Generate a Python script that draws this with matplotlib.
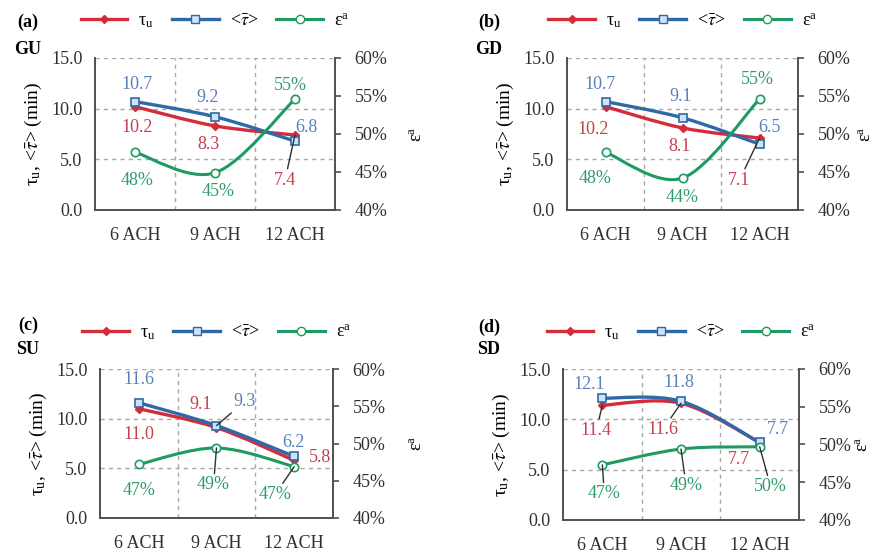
import numpy as np
import matplotlib
matplotlib.use("Agg")
import matplotlib.pyplot as plt
from matplotlib.path import Path
from matplotlib.patches import PathPatch
from matplotlib.lines import Line2D
from matplotlib.ticker import FuncFormatter

plt.rcParams['font.family'] = ['Liberation Serif', 'DejaVu Serif']
plt.rcParams['mathtext.fontset'] = 'stix'

# ---- data ----
categories = ['6 ACH', '9 ACH', '12 ACH']
panel_tags = ['(a)', '(b)', '(c)', '(d)']
panel_names = ['GU', 'GD', 'SU', 'SD']

tau_u_GU = [10.2, 8.3, 7.4]
tau_mean_GU = [10.7, 9.2, 6.8]
eps_GU = [47.6, 44.9, 54.6]

tau_u_GD = [10.2, 8.1, 7.1]
tau_mean_GD = [10.7, 9.1, 6.5]
eps_GD = [47.6, 44.2, 54.6]

tau_u_SU = [11.0, 9.1, 5.8]
tau_mean_SU = [11.6, 9.3, 6.2]
eps_SU = [47.2, 49.4, 46.9]

tau_u_SD = [11.4, 11.6, 7.7]
tau_mean_SD = [12.1, 11.8, 7.7]
eps_SD = [47.3, 49.4, 49.7]

tau_u_all = [tau_u_GU, tau_u_GD, tau_u_SU, tau_u_SD]
tau_mean_all = [tau_mean_GU, tau_mean_GD, tau_mean_SU, tau_mean_SD]
eps_all = [eps_GU, eps_GD, eps_SU, eps_SD]

# ---- styling / layout ----
RED, BLUE, GREEN = '#d42c3a', '#2e6aa8', '#1e9a62'
RED_T, BLUE_T, GREEN_T = '#c4414d', '#5a80b8', '#2f9c6c'
GRID = '#a8a8a8'
SPINE = '#505050'
FS = 13

# axes boxes in pixels: left, right, top, bottom
boxes = [(95, 335, 58, 210), (567, 798, 58, 210),
         (100, 333, 369, 518), (563, 799, 369, 520)]
tag_xy = [(28, 22, 50), (489, 22, 50), (28, 325, 349), (489, 327, 349)]
right_label_x = [418, 866, 418, 864]

# label offsets in pixels (dx, dy up), and leader flag
off_red = [[(2, -21, 0), (-7, -19, 0), (-10, -45, 1)],
           [(-12, -23, 0), (-3, -19, 0), (-20, -42, 1)],
           [(0, -26, 0), (-16, 23, 0), (26, 3, 0)],
           [(-6, -25, 1), (-18, -26, 1), (-21, -17, 0)]]
off_blue = [[(2, 17, 0), (-7, 19, 0), (11, 14, 0)],
            [(-5, 17, 0), (-2, 21, 0), (10, 17, 0)],
            [(0, 23, 0), (28, 24, 1), (-1, 14, 0)],
            [(-13, 14, 0), (-2, 19, 0), (18, 13, 0)]]
off_green = [[(2, -28, 0), (3, -19, 0), (-5, 14, 0)],
             [(-10, -26, 0), (0, -19, 0), (-2, 20, 0)],
             [(0, -26, 0), (-3, -37, 1), (-19, -28, 1)],
             [(2, -29, 1), (5, -36, 1), (11, -40, 1)]]

W, H = 882, 555
fig = plt.figure(figsize=(W / 100, H / 100), dpi=100)


def smooth_path(x, y):
    # Catmull-Rom style smoothed line through the points (Bezier segments)
    pts = np.column_stack([np.asarray(x, float), np.asarray(y, float)])
    ext = np.vstack([pts[0], pts, pts[-1]])
    verts = [pts[0]]
    codes = [Path.MOVETO]
    for i in range(len(pts) - 1):
        p0, p1, p2, p3 = ext[i], ext[i + 1], ext[i + 2], ext[i + 3]
        verts += [p1 + (p2 - p0) / 6, p2 - (p3 - p1) / 6, p2]
        codes += [Path.CURVE4] * 3
    return Path(verts, codes)


def add_labels(ax, xs, ys, texts, offs, color):
    for x, y, t, (dx, dy, lead) in zip(xs, ys, texts, offs):
        kw = {}
        if lead:
            kw['arrowprops'] = dict(arrowstyle='-', color='#303030', lw=1,
                                    shrinkA=0, shrinkB=0)
        ax.annotate(t, xy=(x, y), xytext=(dx * 0.72, dy * 0.72),
                    textcoords='offset points', ha='center', va='center',
                    color=color, fontsize=FS, zorder=6, **kw)


xpos = np.arange(len(categories))

for k in range(4):
    l, r, t, b = boxes[k]
    ax = fig.add_axes([l / W, 1 - b / H, (r - l) / W, (b - t) / H])
    ax2 = ax.twinx()

    ax.set_xlim(-0.5, len(categories) - 0.5)
    ax.set_ylim(0, 15)
    ax2.set_ylim(40, 60)

    ax.set_xticks(xpos)
    ax.set_xticklabels(categories, fontsize=FS, color='#303030')
    ax.set_xticks(xpos[:-1] + 0.5, minor=True)
    ax.set_yticks([0, 5, 10, 15])
    ax.yaxis.set_major_formatter(FuncFormatter(lambda v, p: f'{v:.1f}'))
    ax.tick_params(axis='x', which='both', length=0, pad=12)
    ax.tick_params(axis='y', length=0, pad=9, labelsize=FS, labelcolor='#303030')
    ax2.set_yticks([40, 45, 50, 55, 60])
    ax2.yaxis.set_major_formatter(FuncFormatter(lambda v, p: f'{v:.0f}%'))
    ax2.tick_params(axis='y', length=4, width=1.2, color=SPINE, pad=10,
                    labelsize=FS, labelcolor='#303030')

    ax.grid(axis='x', which='minor', color=GRID, ls=(0, (3, 3)), lw=1)
    ax.grid(axis='y', which='major', color=GRID, ls=(0, (3, 3)), lw=1)
    ax.set_axisbelow(True)
    for s in ['top', 'right']:
        ax.spines[s].set_visible(False)
    for s in ['top', 'left', 'bottom']:
        ax2.spines[s].set_visible(False)
    for s in ['left', 'bottom']:
        ax.spines[s].set_color(SPINE)
        ax.spines[s].set_linewidth(1.4)
    ax2.spines['right'].set_color(SPINE)
    ax2.spines['right'].set_linewidth(1.4)

    ax.set_ylabel(r'$\mathregular{\tau_u}$, <$\bar{\tau}$> (min)', fontsize=14, labelpad=5)
    ax2.set_ylabel(r'$\mathregular{\varepsilon^a}$', fontsize=13, rotation=90,
                   ha='center', va='center')
    ax2.yaxis.set_label_coords((right_label_x[k] - l) / (r - l), 0.5)

    tu, tm, ep = tau_u_all[k], tau_mean_all[k], eps_all[k]

    ax.add_patch(PathPatch(smooth_path(xpos, tu), fc='none', ec=RED, lw=2.4, zorder=3))
    ax.plot(xpos, tu, ls='none', marker='D', ms=4.5, color=RED, zorder=4)
    ax.add_patch(PathPatch(smooth_path(xpos, tm), fc='none', ec=BLUE, lw=2.4, zorder=3.5))
    ax.plot(xpos, tm, ls='none', marker='s', ms=6, mfc='#cfe3f5', mec=BLUE,
            mew=1.2, zorder=4.5)
    ax2.add_patch(PathPatch(smooth_path(xpos, ep), fc='none', ec=GREEN, lw=2.2, zorder=3))
    ax2.plot(xpos, ep, ls='none', marker='o', ms=6, mfc='white', mec=GREEN,
             mew=1.2, zorder=4)

    add_labels(ax, xpos, tu, [f'{v:.1f}' for v in tu], off_red[k], RED_T)
    add_labels(ax, xpos, tm, [f'{v:.1f}' for v in tm], off_blue[k], BLUE_T)
    add_labels(ax2, xpos, ep, [f'{v:.0f}%' for v in ep], off_green[k], GREEN_T)

    handles = [
        Line2D([], [], color=RED, lw=2.4, marker='D', ms=4.5),
        Line2D([], [], color=BLUE, lw=2.4, marker='s', ms=6, mfc='#cfe3f5', mec=BLUE),
        Line2D([], [], color=GREEN, lw=2.2, marker='o', ms=6, mfc='white', mec=GREEN),
    ]
    names = [r'$\mathregular{\tau_u}$', r'<$\bar{\tau}$>', r'$\mathregular{\varepsilon^a}$']
    ax.legend(handles, names, loc='center', bbox_to_anchor=(0.5, 1.24), ncol=3,
              frameon=False, fontsize=13, handlelength=2.6, handletextpad=0.6,
              columnspacing=1.0, borderaxespad=0)

    tx, ty1, ty2 = tag_xy[k]
    fig.text(tx / W, 1 - ty1 / H, panel_tags[k], fontsize=13, fontweight='bold',
             ha='center', va='center')
    fig.text(tx / W, 1 - ty2 / H, panel_names[k], fontsize=13, fontweight='bold',
             ha='center', va='center')

fig.savefig('out.png', dpi=100)
